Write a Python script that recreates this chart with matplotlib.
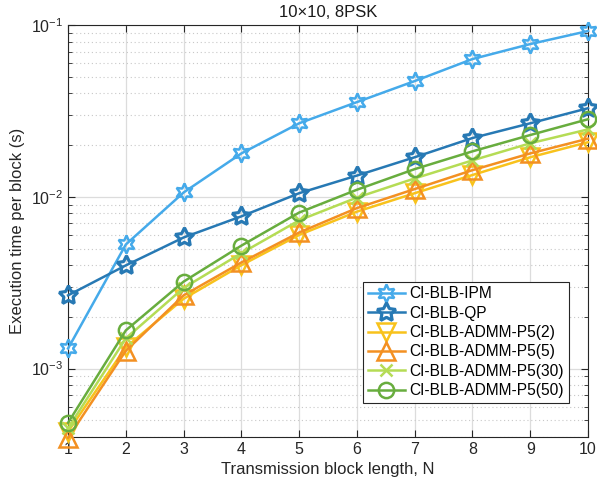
import numpy as np
import matplotlib.pyplot as plt
from matplotlib.ticker import LogLocator, NullFormatter

# block length N
block_len = [1, 2, 3, 4, 5, 6, 7, 8, 9, 10]

# execution time per block (s)
t_ipm = [1.31e-3, 5.28e-3, 1.06e-2, 1.79e-2, 2.68e-2, 3.56e-2, 4.72e-2, 6.34e-2, 7.75e-2, 9.23e-2]
t_qp = [2.67e-3, 3.99e-3, 5.8e-3, 7.7e-3, 1.05e-2, 1.33e-2, 1.70e-2, 2.20e-2, 2.68e-2, 3.28e-2]
t_p5_2 = [4.3e-4, 1.33e-3, 2.55e-3, 4.0e-3, 6.0e-3, 8.2e-3, 1.05e-2, 1.34e-2, 1.70e-2, 2.08e-2]
t_p5_5 = [3.96e-4, 1.27e-3, 2.67e-3, 4.15e-3, 6.2e-3, 8.6e-3, 1.11e-2, 1.43e-2, 1.79e-2, 2.18e-2]
t_p5_30 = [4.5e-4, 1.5e-3, 2.95e-3, 4.7e-3, 7.3e-3, 9.9e-3, 1.28e-2, 1.63e-2, 2.05e-2, 2.47e-2]
t_p5_50 = [4.84e-4, 1.67e-3, 3.21e-3, 5.2e-3, 8.1e-3, 1.10e-2, 1.45e-2, 1.84e-2, 2.29e-2, 2.83e-2]

labels = ['CI-BLB-IPM', 'CI-BLB-QP', 'CI-BLB-ADMM-P5(2)',
          'CI-BLB-ADMM-P5(5)', 'CI-BLB-ADMM-P5(30)', 'CI-BLB-ADMM-P5(50)']


def main():
    plt.rcParams['font.family'] = ['Liberation Sans', 'DejaVu Sans']
    fig = plt.figure(figsize=(5.97, 4.91), dpi=100)
    ax = fig.add_axes([0.114, 0.110, 0.871, 0.839])

    series = [
        (t_ipm, '#45aaea', (6, 1, 0), 13, 1.8),
        (t_qp, '#2779b4', (5, 1, 0), 14, 2.3),
        (t_p5_2, '#f8c21c', 'v', 13, 1.8),
        (t_p5_5, '#f39022', '^', 13, 1.8),
        (t_p5_30, '#b5dc55', 'x', 8, 1.8),
        (t_p5_50, '#68ad3e', 'o', 11, 1.8),
    ]
    for (vals, col, mk, ms, mew), lab in zip(series, labels):
        ax.semilogy(block_len, vals, color=col, lw=1.8, marker=mk, ms=ms,
                    mfc='none', mec=col, mew=mew, label=lab, clip_on=False,
                    zorder=3)

    ax.set_xlim(1, 10)
    ax.set_ylim(4e-4, 1e-1)
    ax.set_xticks(block_len)
    ax.yaxis.set_major_locator(LogLocator(base=10, numticks=10))
    ax.yaxis.set_minor_locator(LogLocator(base=10, subs=np.arange(2, 10), numticks=20))
    ax.yaxis.set_minor_formatter(NullFormatter())

    ax.grid(True, which='major', color='#dcdcdc', lw=0.9, ls='-')
    ax.grid(True, which='minor', axis='y', color='#c8c8c8', lw=0.8, ls=(0, (1, 2.5)))
    ax.set_axisbelow(True)

    ax.tick_params(which='both', direction='in', top=True, right=True,
                   labelsize=11.5, colors='#262626')
    ax.tick_params(which='major', length=5)
    ax.tick_params(which='minor', length=3)
    for sp in ax.spines.values():
        sp.set_color('#262626')
        sp.set_linewidth(0.8)

    ax.set_xlabel('Transmission block length, N', fontsize=12, color='#262626')
    ax.set_ylabel('Execution time per block (s)', fontsize=12, color='#262626')
    ax.set_title('10\u00d710, 8PSK', fontsize=12, color='#1a1a1a', pad=6)

    leg = ax.legend(loc='lower left', bbox_to_anchor=(0.567, 0.083), fontsize=11.2,
                    fancybox=False, framealpha=1, edgecolor='#262626',
                    handlelength=2.4, borderpad=0.3, labelspacing=0.28,
                    handletextpad=0.3, borderaxespad=0)
    leg.get_frame().set_linewidth(0.8)

    fig.savefig('out.png', dpi=100)


if __name__ == '__main__':
    main()
